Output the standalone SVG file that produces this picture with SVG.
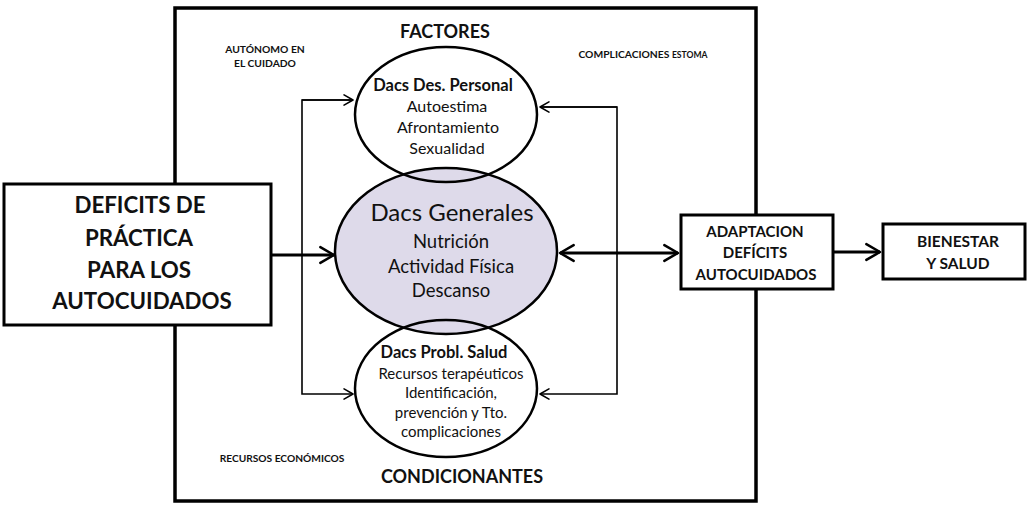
<svg xmlns="http://www.w3.org/2000/svg" width="1028" height="506" viewBox="0 0 1028 506">
  <style>
    text { font-family: Lato, "Open Sans", "Liberation Sans", sans-serif; fill: #111; text-anchor: middle; }
    .b { font-weight: bold; }
    .frame { fill: none; stroke: #000; stroke-width: 3.5; }
    .box { fill: #fff; stroke: #000; stroke-width: 3; }
    .oval { fill: none; stroke: #000; stroke-width: 2.5; }
    .thick { fill: none; stroke: #000; stroke-width: 3; }
    .thin { fill: none; stroke: #000; stroke-width: 1.6; }
  </style>
  <defs>
    <marker id="open" viewBox="0 0 10 10" refX="9" refY="5" markerWidth="6.5" markerHeight="6.5" orient="auto-start-reverse" markerUnits="strokeWidth">
      <path d="M2,1 L9,5 L2,9" fill="none" stroke="#000" stroke-width="1.3" stroke-linecap="round" stroke-linejoin="round"/>
    </marker>
    <marker id="openThin" viewBox="0 0 10 10" refX="9" refY="5" markerWidth="8" markerHeight="8" orient="auto" markerUnits="strokeWidth">
      <path d="M2,1 L9,5 L2,9" fill="none" stroke="#000" stroke-width="1.2" stroke-linecap="round" stroke-linejoin="round"/>
    </marker>
  </defs>

  <!-- outer frame of factors -->
  <rect class="frame" x="175" y="8" width="581" height="493"/>

  <!-- free labels inside the frame -->
  <text class="b" x="445" y="38" font-size="18">FACTORES</text>
  <text class="b" x="265" y="53" font-size="10.3">AUTÓNOMO EN</text>
  <text class="b" x="265" y="67" font-size="10.3">EL CUIDADO</text>
  <text class="b" x="643" y="58" font-size="10.3">COMPLICACIONES <tspan font-size="8.6">ESTOMA</tspan></text>
  <text class="b" x="282" y="462" font-size="10.2">RECURSOS ECONÓMICOS</text>
  <text class="b" x="462" y="483" font-size="18">CONDICIONANTES</text>

  <!-- connectors -->
  <g id="connectors">
    <line class="thick" x1="271" y1="255" x2="334" y2="255" marker-end="url(#open)"/>
    <line class="thick" x1="560" y1="253" x2="678" y2="253" marker-start="url(#open)" marker-end="url(#open)"/>
    <line class="thick" x1="833" y1="252" x2="880" y2="252" marker-end="url(#open)"/>
    <polyline class="thin" points="353,100 302,100 302,394 353,394" marker-end="url(#openThin)"/>
    <line class="thin" x1="302" y1="100" x2="353" y2="100" marker-end="url(#openThin)"/>
    <polyline class="thin" points="540,107 617,107 617,394 540,394" marker-end="url(#openThin)"/>
    <line class="thin" x1="617" y1="107" x2="540" y2="107" marker-end="url(#openThin)"/>
  </g>

  <!-- input box -->
  <g id="deficits">
    <rect class="box" x="4" y="184" width="267" height="141"/>
    <text class="b" x="140" y="213" font-size="22.3">DEFICITS DE</text>
    <text class="b" x="139" y="246" font-size="22.3">PRÁCTICA</text>
    <text class="b" x="139" y="278" font-size="22.3">PARA LOS</text>
    <text class="b" x="142" y="309" font-size="22.3">AUTOCUIDADOS</text>
  </g>

  <!-- central general needs -->
  <g id="generales">
    <ellipse cx="446" cy="251" rx="111" ry="83" fill="#dedaea" stroke="#000" stroke-width="2.5"/>
    <text x="452" y="221" font-size="24">Dacs Generales</text>
    <text x="451" y="248" font-size="18.5">Nutrición</text>
    <text x="451" y="273" font-size="18.5">Actividad Física</text>
    <text x="451" y="297" font-size="18.5">Descanso</text>
  </g>

  <!-- personal development -->
  <g id="personal">
    <ellipse class="oval" cx="446" cy="114.5" rx="91" ry="67.5"/>
    <text class="b" x="443" y="91" font-size="16.5">Dacs Des. Personal</text>
    <text x="447" y="112" font-size="16">Autoestima</text>
    <text x="448" y="133" font-size="16">Afrontamiento</text>
    <text x="447" y="154" font-size="16">Sexualidad</text>
  </g>

  <!-- health problems -->
  <g id="salud">
    <ellipse class="oval" cx="446" cy="388.5" rx="91" ry="68.5"/>
    <text class="b" x="444" y="358" font-size="16.5">Dacs Probl. Salud</text>
    <text x="451" y="379" font-size="15">Recursos terapéuticos</text>
    <text x="451" y="398" font-size="15">Identificación,</text>
    <text x="451" y="418" font-size="15">prevención y Tto.</text>
    <text x="451" y="437" font-size="15">complicaciones</text>
  </g>

  <!-- adaptation box -->
  <g id="adaptacion">
    <rect class="box" x="681" y="215" width="152" height="74"/>
    <text class="b" x="755" y="237" font-size="15">ADAPTACION</text>
    <text class="b" x="755" y="258" font-size="15">DEFÍCITS</text>
    <text class="b" x="756" y="280" font-size="15">AUTOCUIDADOS</text>
  </g>

  <!-- outcome box -->
  <g id="bienestar">
    <rect class="box" x="883" y="224" width="142" height="55"/>
    <text class="b" x="958" y="247" font-size="15.5">BIENESTAR</text>
    <text class="b" x="958" y="269" font-size="15.5">Y SALUD</text>
  </g>
</svg>
